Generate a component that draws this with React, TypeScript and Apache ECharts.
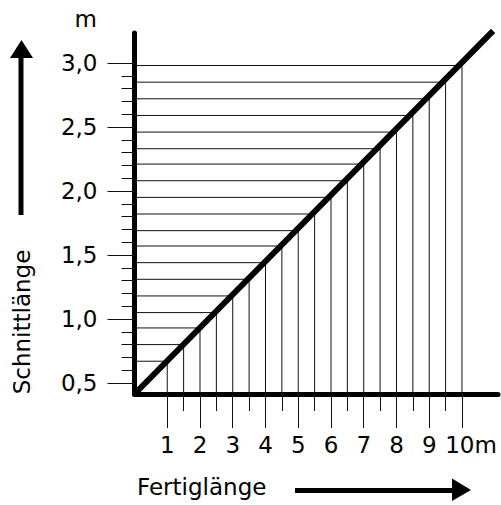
import React, { useEffect, useRef } from "react";
import * as echarts from "echarts";

// Fertiglänge (finished length, m) at which guide lines are drawn
const FINISHED = [1, 1.5, 2, 2.5, 3, 3.5, 4, 4.5, 5, 5.5, 6, 6.5, 7, 7.5, 8, 8.5, 9, 9.5, 10];
// Schnittlänge (cutting length, m)
const CUT = [0.67, 0.8, 0.93, 1.05, 1.18, 1.31, 1.44, 1.57, 1.69, 1.82, 1.95, 2.08, 2.21, 2.33, 2.46, 2.59, 2.72, 2.85, 2.98];
// Diagonal line end points
const LINE_X = [0, 10.95];
const LINE_Y = [0.414, 3.25];
// Axis ticks / labels
const X_LABELS = [1, 2, 3, 4, 5, 6, 7, 8, 9, 10];
const X_HALF_TICKS = [1.5, 2.5, 3.5, 4.5, 5.5, 6.5, 7.5, 8.5, 9.5];
const Y_LABELS = [0.5, 1.0, 1.5, 2.0, 2.5, 3.0];
const Y_MINOR_TICKS = [0.6, 0.7, 0.8, 0.9, 1.1, 1.2, 1.3, 1.4, 1.6, 1.7, 1.8, 1.9, 2.1, 2.2, 2.3, 2.4, 2.6, 2.7, 2.8, 2.9];

const X_MIN = 0;
const X_MAX = 11.1;
const Y_MIN = 0.414;
const Y_MAX = 3.234;

const FONT = "'DejaVu Sans', 'Liberation Sans', Arial, sans-serif";
const FS = 23;

export default function App() {
  const ref = useRef<HTMLDivElement>(null);
  useEffect(() => {
    if (!ref.current) return;
    const chart = echarts.init(ref.current, null, { renderer: "svg" });
    const baseY = {
      type: "value" as const,
      min: Y_MIN,
      max: Y_MAX,
      splitLine: { show: false },
    };
    const baseX = {
      type: "value" as const,
      min: X_MIN,
      max: X_MAX,
      splitLine: { show: false },
    };
    chart.setOption({
      animation: false,
      backgroundColor: "#fff",
      grid: { left: 134.5, top: 33, width: 363.5, height: 361 },
      xAxis: [
        {
          ...baseX,
          axisLine: { show: true, onZero: false, lineStyle: { color: "#000", width: 5 } },
          axisTick: { show: true, customValues: X_LABELS, length: 34, lineStyle: { color: "#111", width: 1 } },
          axisLabel: {
            show: true,
            customValues: X_LABELS,
            margin: 39,
            color: "#000",
            fontSize: FS,
            fontFamily: FONT,
            formatter: (v: number) => (v === 10 ? "{t|10m}" : String(v)),
            rich: { t: { padding: [0, 0, 0, 18], fontSize: FS, fontFamily: FONT, color: "#000" } },
          },
        },
        {
          ...baseX,
          position: "bottom",
          axisLine: { show: false, onZero: false },
          axisTick: { show: true, customValues: X_HALF_TICKS, length: 17, lineStyle: { color: "#111", width: 1 } },
          axisLabel: { show: false },
        },
      ],
      yAxis: [
        {
          ...baseY,
          position: "left",
          axisLine: { show: true, onZero: false, lineStyle: { color: "#000", width: 5 } },
          axisTick: { show: true, customValues: Y_LABELS, length: 27, lineStyle: { color: "#111", width: 1 } },
          axisLabel: {
            show: true,
            customValues: Y_LABELS,
            margin: 37,
            color: "#000",
            fontSize: FS,
            fontFamily: FONT,
            formatter: (v: number) => v.toFixed(1).replace(".", ","),
          },
        },
        {
          ...baseY,
          position: "left",
          axisLine: { show: false, onZero: false },
          axisTick: { show: true, customValues: Y_MINOR_TICKS, length: 13, lineStyle: { color: "#111", width: 1 } },
          axisLabel: { show: false },
        },
      ],
      graphic: [
        { type: "text", x: 97, y: 19, style: { text: "m", align: "right", verticalAlign: "middle", fontSize: FS, fontFamily: FONT, fill: "#000" } },
        { type: "text", x: 22, y: 322, rotation: Math.PI / 2, style: { text: "Schnittlänge", align: "center", verticalAlign: "middle", fontSize: FS, fontFamily: FONT, fill: "#000" } },
        { type: "text", x: 137, y: 487, style: { text: "Fertiglänge", align: "left", verticalAlign: "middle", fontSize: FS, fontFamily: FONT, fill: "#000" } },
        { type: "rect", shape: { x: 18.5, y: 56, width: 5, height: 159 }, style: { fill: "#000" } },
        { type: "polygon", shape: { points: [[10, 58], [33, 58], [21.5, 40]] }, style: { fill: "#000" } },
        { type: "rect", shape: { x: 295, y: 488, width: 160, height: 5 }, style: { fill: "#000" } },
        { type: "polygon", shape: { points: [[452, 478.5], [452, 501], [471, 490]] }, style: { fill: "#000" } },
      ],
      series: [
        {
          type: "custom",
          xAxisIndex: 0,
          yAxisIndex: 0,
          silent: true,
          z: 1,
          data: FINISHED.map((x, i) => [x, CUT[i]]),
          renderItem: (_params: any, api: any) => {
            const x = api.value(0);
            const y = api.value(1);
            const p = api.coord([x, y]);
            const b = api.coord([x, Y_MIN]);
            const l = api.coord([X_MIN, y]);
            return {
              type: "group",
              children: [
                { type: "line", shape: { x1: b[0], y1: b[1], x2: p[0], y2: p[1] }, style: { stroke: "#111", lineWidth: 1 } },
                { type: "line", shape: { x1: l[0], y1: l[1], x2: p[0], y2: p[1] }, style: { stroke: "#111", lineWidth: 1 } },
              ],
            };
          },
        },
        {
          type: "line",
          xAxisIndex: 0,
          yAxisIndex: 0,
          data: LINE_X.map((x, i) => [x, LINE_Y[i]]),
          symbol: "none",
          clip: false,
          z: 5,
          lineStyle: { color: "#000", width: 6 },
        },
      ],
    });
    return () => chart.dispose();
  }, []);
  return <div ref={ref} style={{ width: 501, height: 505, position: "absolute", left: 0, top: 0 }} />;
}
